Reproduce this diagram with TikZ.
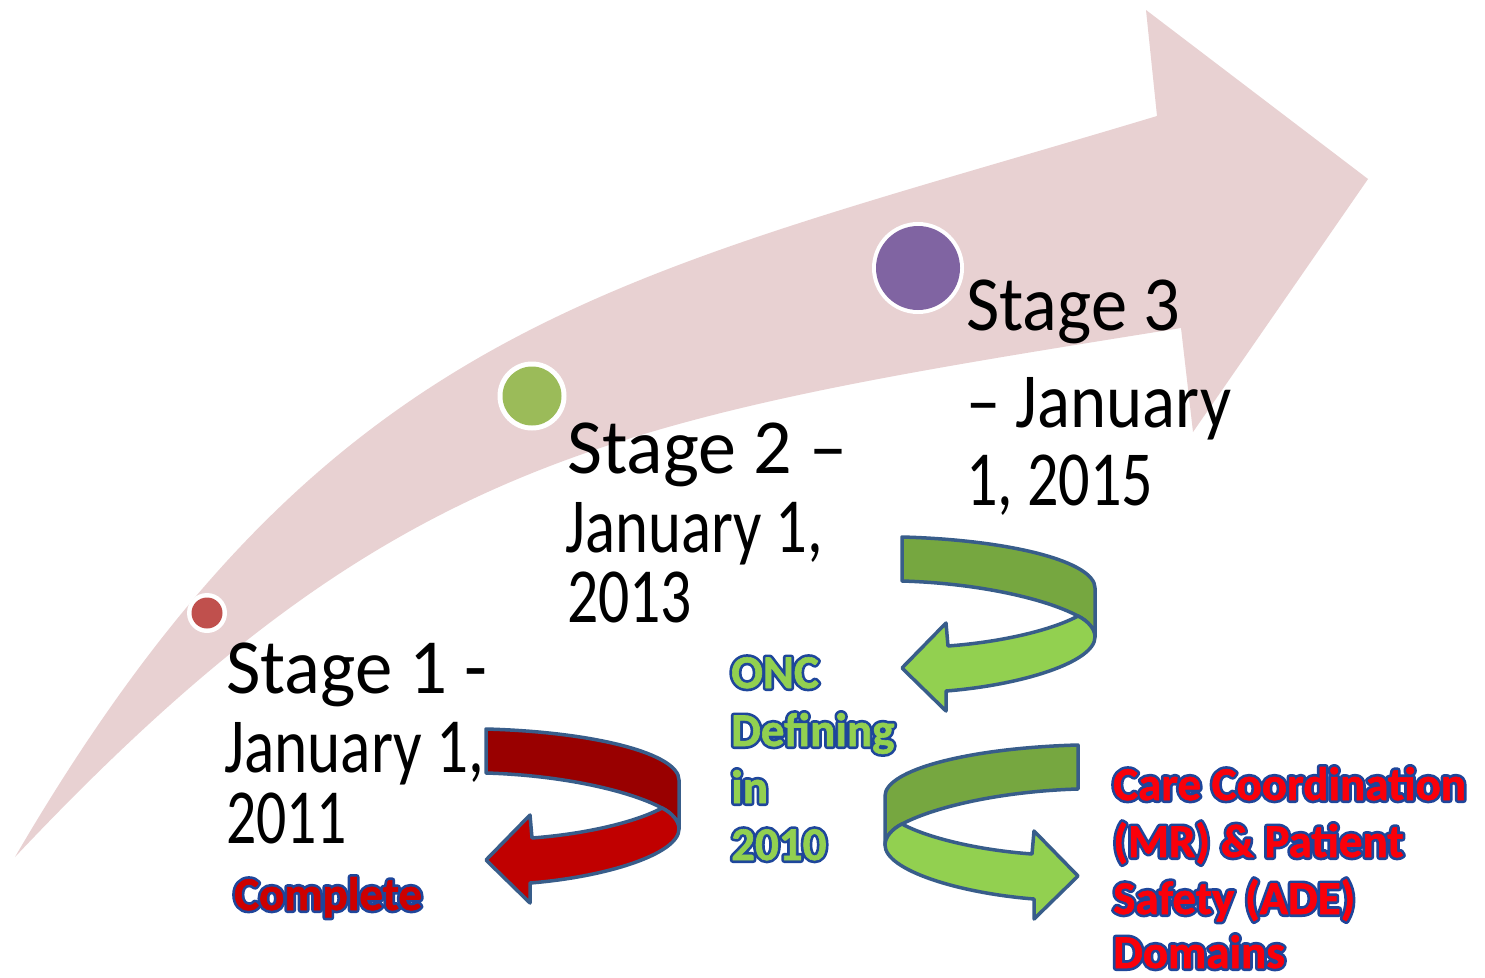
\documentclass[tikz,border=0pt]{standalone}
\usepackage{fontspec}
\usepackage{graphicx}
\setmainfont{Carlito}
\definecolor{pinkc}{RGB}{232,209,210}
\definecolor{dotred}{RGB}{192,80,77}
\definecolor{dotgreen}{RGB}{155,187,89}
\definecolor{dotpurple}{RGB}{128,100,162}
\definecolor{ublue}{RGB}{56,93,138}
\definecolor{redback}{RGB}{153,0,0}
\definecolor{redfront}{RGB}{192,0,0}
\definecolor{grback}{RGB}{118,167,64}
\definecolor{grfront}{RGB}{146,208,80}
\definecolor{olblue}{RGB}{30,70,155}
\definecolor{txtred}{RGB}{205,0,0}
\definecolor{txtred2}{RGB}{250,0,10}
\definecolor{txtgreen}{RGB}{146,208,80}
\newcommand\fitw[2]{\resizebox{#1pt}{\height}{#2}}
% text with a blue outline drawn outside the glyphs
\newcommand\otext[1]{\rlap{\color{olblue}\special{pdf:literal direct 1 Tr 6 w 1 j}#1}%
  \special{pdf:literal direct 2 Tr 0.6 w 1 j}#1\special{pdf:literal direct 0 Tr}}
\newcommand\uarrowshape[2]{%
  \filldraw[uline, fill=#1] (0,0) .. controls (110,3) and (193,25) .. (193,51) -- (193,100)
     .. controls (193,92) and (186,84) .. (176,79) .. controls (140,60) and (70,46) .. (0,44) -- cycle;
  \filldraw[uline, fill=#2] (176,79) .. controls (186,84) and (193,92) .. (193,100)
     .. controls (193,125) and (120,148) .. (44,154) -- (44,174) -- (0,131) -- (44,86) -- (46,109)
     .. controls (100,105) and (150,93) .. (176,79) -- cycle;}
\begin{document}
\begin{tikzpicture}[x=1pt,y=-1pt,
  uline/.style={draw=ublue, line width=3.5pt, line join=round},
  stxt/.style={anchor=base west, inner sep=0pt, text=black, font=\fontsize{78}{78}\selectfont},
  btext/.style={anchor=base west, inner sep=0pt, font=\fontsize{47}{47}\selectfont\bfseries}]
\useasboundingbox (0,0) rectangle (1485,977);
\fill[white] (0,0) rectangle (1485,977);
% big curved arrow
\fill[pinkc] (15,857) .. controls (330,317) and (616,279) .. (1157,116) -- (1146,10) -- (1368,179)
  -- (1193,432) -- (1181,328) .. controls (612,419) and (397,452) .. (15,857) -- cycle;
% dots
\fill[white] (207,613) circle (20);
\fill[dotred] (207,613) circle (15.5) coordinate (d1);
\fill[white] (532,396) circle (34.5);
\fill[dotgreen] (532,396) circle (29.5) coordinate (d2);
\fill[white] (918,268) circle (46);
\fill[dotpurple] (918,268) circle (42) coordinate (d3);
% stage texts
\node[stxt] (s1a) at (226,693) {\fitw{261}{Stage 1 -}};
\node[stxt] (s1b) at (224,772) {\fitw{260}{January 1,}};
\node[stxt] (s1c) at (226,843) {\fitw{121}{2011}};
\node[stxt] (s2a) at (567,473) {\fitw{280}{Stage 2 –}};
\node[stxt] (s2b) at (565,552) {\fitw{258}{January 1,}};
\node[stxt] (s2c) at (567,622) {\fitw{125}{2013}};
\node[stxt] (s3a) at (966,330) {\fitw{214}{Stage 3}};
\node[stxt] (s3b) at (966,427) {\fitw{265}{– January}};
\node[stxt] (s3c) at (966,505) {\fitw{187}{1, 2015}};
% U-turn arrows
\begin{scope}[shift={(486,729)}]\uarrowshape{redback}{redfront}\end{scope}
\begin{scope}[shift={(902,537)}]\uarrowshape{grback}{grfront}\end{scope}
\begin{scope}[shift={(1078,745)}, xscale=-1]\uarrowshape{grback}{grfront}\end{scope}
% coloured labels
\node[btext, text=txtred] (comp) at (234,910) {\otext{Complete}};
\node[btext, text=txtgreen] (onc1) at (731,688) {\otext{ONC}};
\node[btext, text=txtgreen] (onc2) at (731,746) {\otext{Defining}};
\node[btext, text=txtgreen] (onc3) at (731,803) {\otext{in}};
\node[btext, text=txtgreen] (onc4) at (731,860) {\otext{2010}};
\node[btext, text=txtred2] (cc1) at (1113,800) {\otext{Care Coordination}};
\node[btext, text=txtred2] (cc2) at (1113,857) {\otext{(MR) \& Patient}};
\node[btext, text=txtred2] (cc3) at (1113,914) {\otext{Safety (ADE)}};
\node[btext, text=txtred2] (cc4) at (1113,968) {\otext{Domains}};
\end{tikzpicture}
\end{document}
